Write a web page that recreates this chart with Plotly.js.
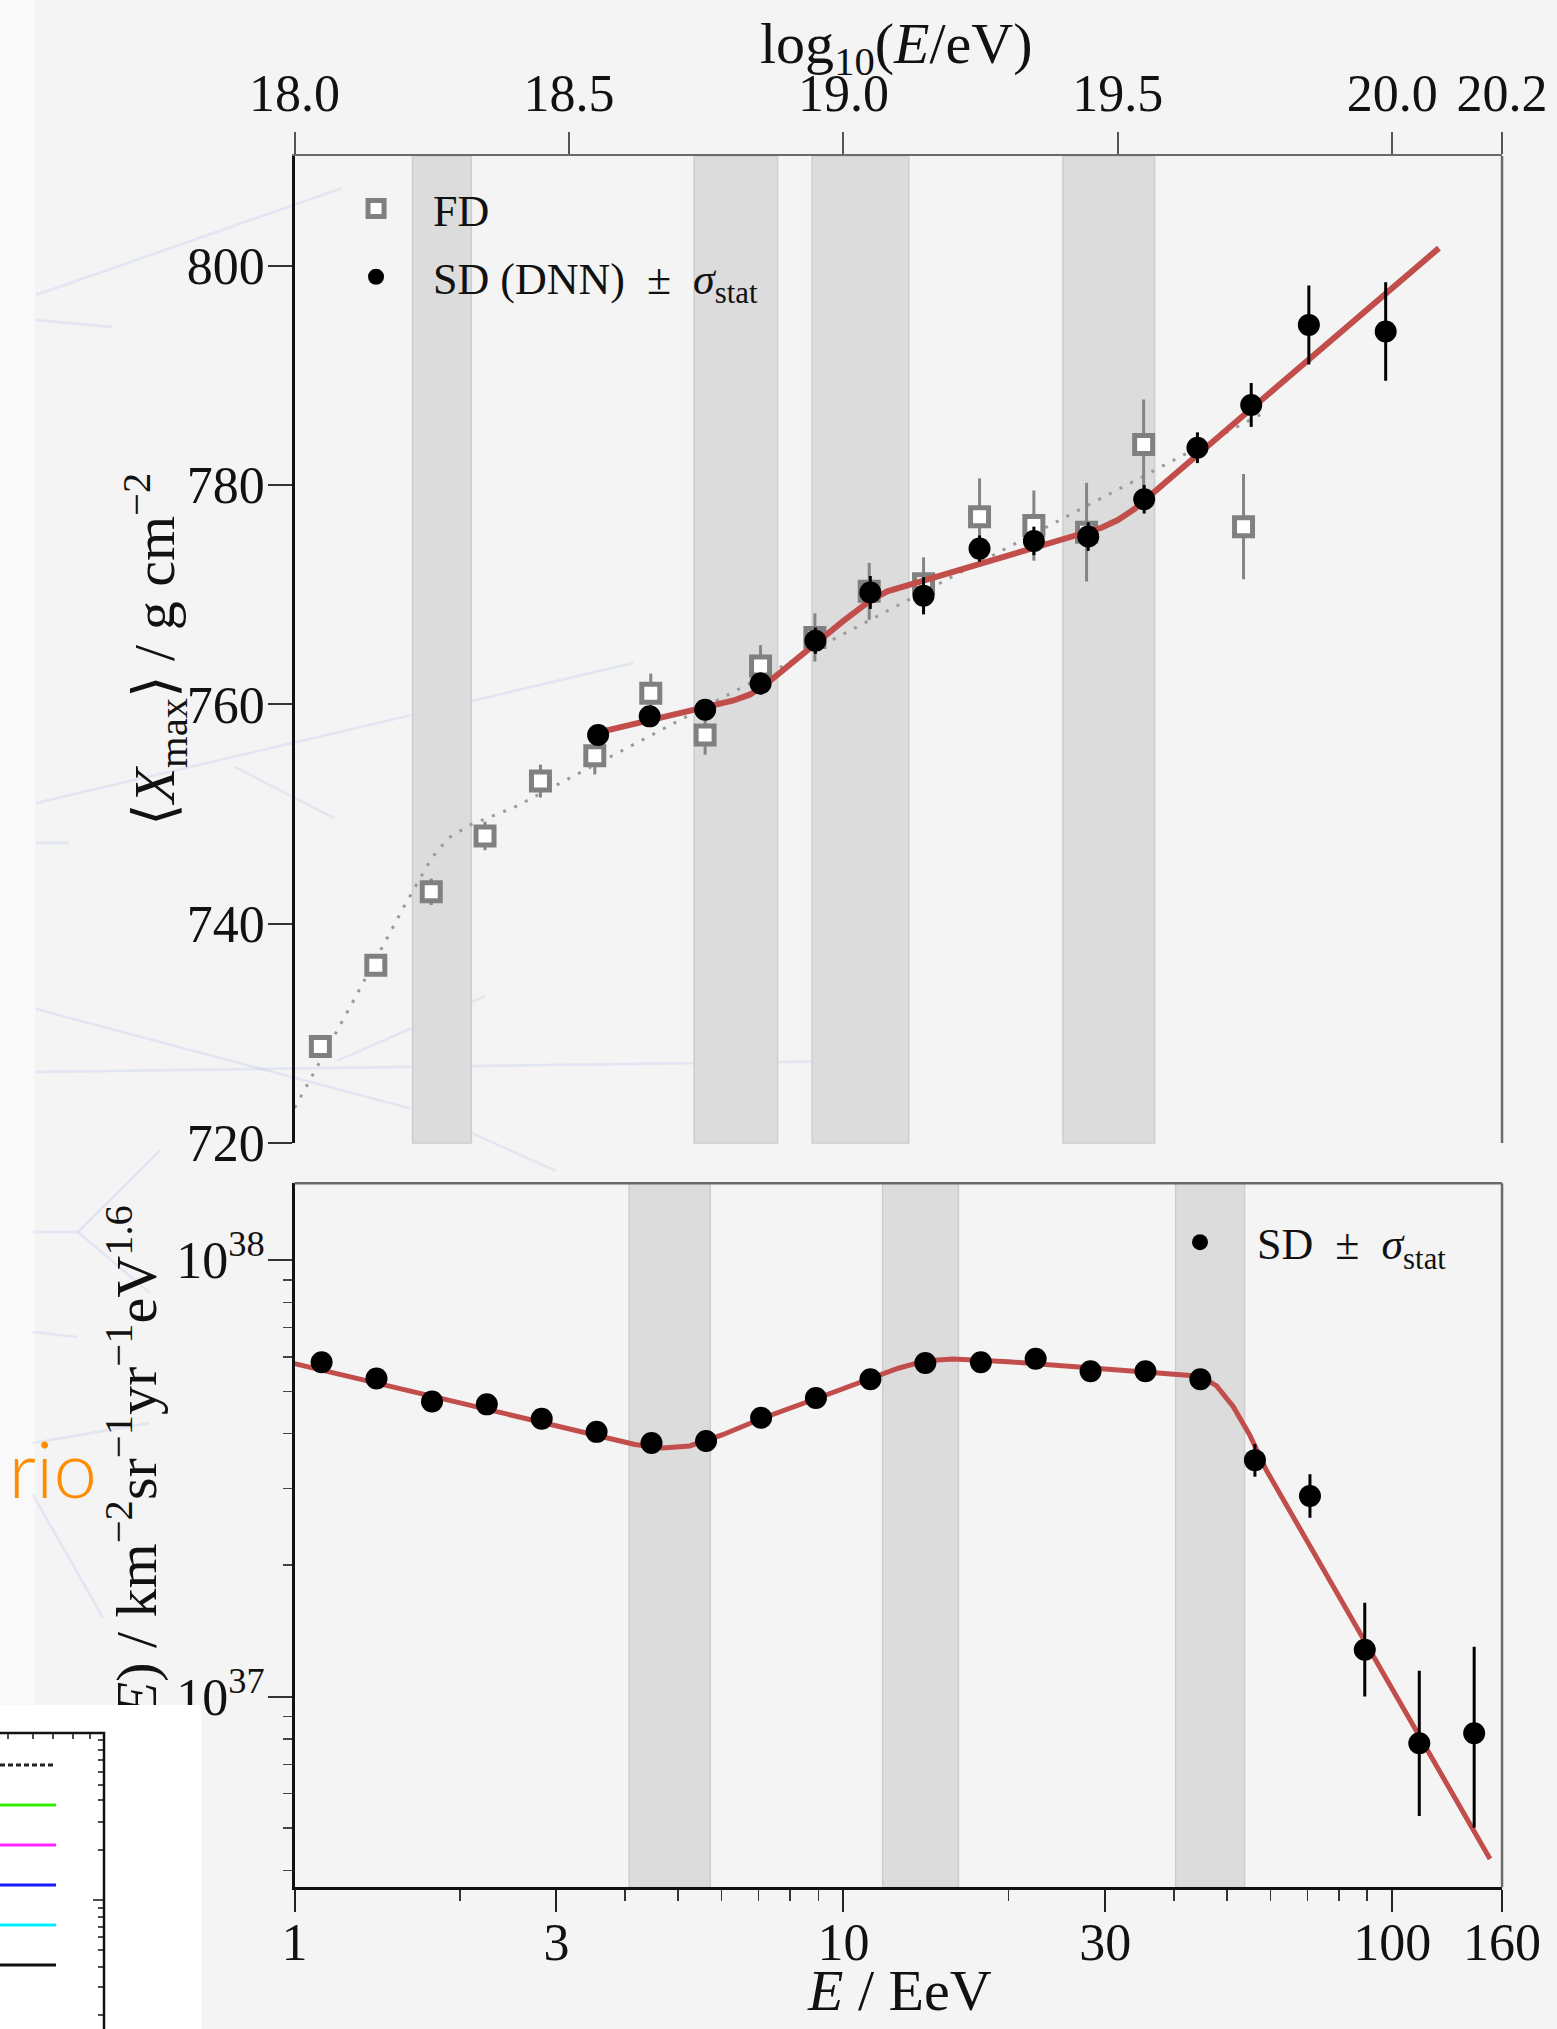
<!DOCTYPE html>
<html>
<head>
<meta charset="utf-8">
<script src="https://cdn.plot.ly/plotly-3.0.1.min.js"></script>
<style>
html,body{margin:0;padding:0;background:#f4f4f4;}
#wrap{position:relative;width:1557px;height:2029px;overflow:hidden;}
#chart{position:absolute;left:0;top:0;width:1557px;height:2029px;}
#deco{position:absolute;left:0;top:0;pointer-events:none;}
</style>
</head>
<body>
<div id="wrap">
<div id="chart"></div>
<svg id="deco" width="1557" height="2029" xmlns="http://www.w3.org/2000/svg">
  <text x="97" y="1498" text-anchor="end" font-family="Lato, 'Noto Sans', sans-serif" font-weight="300" font-size="78" fill="#ff8c00">rio</text>
  <rect x="0" y="1705" width="201" height="324" fill="#ffffff"/>
  <path d="M0 1733 H104 V2029" stroke="#111" stroke-width="2.5" fill="none"/>
  <g stroke="#111" stroke-width="1.5">
    <line x1="8" y1="1733" x2="8" y2="1739"/><line x1="33" y1="1733" x2="33" y2="1739"/>
    <line x1="53" y1="1733" x2="53" y2="1739"/><line x1="73" y1="1733" x2="73" y2="1739"/>
    <line x1="90" y1="1733" x2="90" y2="1739"/>
    <line x1="98" y1="1740" x2="104" y2="1740"/><line x1="98" y1="1750" x2="104" y2="1750"/>
    <line x1="98" y1="1760" x2="104" y2="1760"/><line x1="98" y1="1772" x2="104" y2="1772"/>
    <line x1="98" y1="1785" x2="104" y2="1785"/><line x1="98" y1="1800" x2="104" y2="1800"/>
    <line x1="98" y1="1822" x2="104" y2="1822"/><line x1="98" y1="1850" x2="104" y2="1850"/>
    <line x1="93" y1="1900" x2="104" y2="1900"/><line x1="98" y1="1908" x2="104" y2="1908"/>
    <line x1="98" y1="1917" x2="104" y2="1917"/><line x1="98" y1="1927" x2="104" y2="1927"/>
    <line x1="98" y1="1937" x2="104" y2="1937"/><line x1="98" y1="1950" x2="104" y2="1950"/>
    <line x1="98" y1="1967" x2="104" y2="1967"/><line x1="98" y1="1987" x2="104" y2="1987"/>
    <line x1="98" y1="2015" x2="104" y2="2015"/>
  </g>
  <line x1="0" y1="1765" x2="56" y2="1765" stroke="#222" stroke-width="3" stroke-dasharray="5,3"/>
  <line x1="0" y1="1805" x2="56" y2="1805" stroke="#33ee00" stroke-width="3"/>
  <line x1="0" y1="1845" x2="56" y2="1845" stroke="#ff22ff" stroke-width="3"/>
  <line x1="0" y1="1885" x2="56" y2="1885" stroke="#1a1aff" stroke-width="3"/>
  <line x1="0" y1="1925" x2="56" y2="1925" stroke="#00f0ff" stroke-width="3"/>
  <line x1="0" y1="1965" x2="56" y2="1965" stroke="#111" stroke-width="3"/>
</svg>
</div>
<script>
// ---------- data: top panel (<Xmax> vs log10(E/eV)) ----------
const fdLogE = [18.047, 18.148, 18.249, 18.347, 18.448, 18.547, 18.649, 18.748, 18.849, 18.948, 19.047, 19.146, 19.248, 19.347, 19.443, 19.547, 19.729];
const fdXmax = [728.8, 736.2, 742.9, 748.0, 753.0, 755.3, 761.0, 757.2, 763.5, 766.1, 770.3, 771.0, 777.1, 776.3, 775.7, 783.7, 776.2];
const fdErr  = [0.9, 1.0, 1.2, 1.3, 1.5, 1.7, 1.8, 1.8, 1.9, 2.2, 2.6, 2.4, 3.5, 3.2, 4.5, 4.1, 4.8];

const sdLogE = [18.553, 18.647, 18.748, 18.849, 18.949, 19.049, 19.146, 19.248, 19.347, 19.446, 19.548, 19.645, 19.743, 19.848, 19.988];
const sdXmax = [757.2, 758.9, 759.5, 761.9, 765.8, 770.2, 769.9, 774.2, 774.9, 775.3, 778.7, 783.4, 787.3, 794.6, 794.0];
const sdErr  = [0.8, 0.8, 0.9, 1.0, 1.2, 1.5, 1.7, 1.2, 1.3, 1.3, 1.3, 1.4, 2.0, 3.6, 4.5];

const sdFitLogE = [18.55, 18.70, 18.80, 18.83, 18.86, 19.00, 19.05, 19.08, 19.30, 19.47, 19.50, 19.53, 19.70, 20.085];
const sdFitXmax = [757.4, 759.2, 760.35, 760.9, 761.9, 767.6, 769.5, 770.3, 773.6, 776.1, 776.8, 777.8, 785.1, 801.6];

const fdFitLogE = [18.00, 18.10, 18.20, 18.25, 18.28, 18.32, 18.40, 19.00, 19.77];
const fdFitXmax = [723.2, 732.3, 741.6, 746.0, 747.8, 749.0, 750.6, 766.4, 786.7];

const xmaxBands = [[18.215, 18.322], [18.728, 18.880], [18.943, 19.119], [19.400, 19.567]];

// ---------- data: bottom panel (spectrum vs E / EeV) ----------
const specE       = [1.12, 1.41, 1.78, 2.24, 2.82, 3.55, 4.47, 5.62, 7.08, 8.91, 11.2, 14.1, 17.8, 22.4, 28.2, 35.5, 44.7, 56.2, 70.8, 89.1, 112, 141];
const specFlux    = [5.83, 5.35, 4.74, 4.67, 4.33, 4.04, 3.81, 3.85, 4.35, 4.83, 5.33, 5.81, 5.83, 5.94, 5.56, 5.56, 5.33, 3.48, 2.88, 1.28, 0.782, 0.824]; // x 1e37
const specErrUp   = [0.02, 0.02, 0.02, 0.02, 0.02, 0.02, 0.03, 0.03, 0.04, 0.05, 0.06, 0.08, 0.10, 0.12, 0.15, 0.18, 0.22, 0.31, 0.35, 0.36, 0.364, 0.476];
const specErrDown = [0.02, 0.02, 0.02, 0.02, 0.02, 0.02, 0.03, 0.03, 0.04, 0.05, 0.06, 0.08, 0.10, 0.12, 0.15, 0.18, 0.22, 0.29, 0.31, 0.28, 0.249, 0.323];

const specFitE    = [1.00, 1.585, 2.512, 3.548, 4.169, 4.677, 5.248, 6.026, 7.079, 8.913, 11.22, 12.59, 14.13, 15.85, 19.95, 25.12, 31.62, 39.81, 44.67, 47.86, 51.29, 54.95, 58.88, 150.7];
const specFitFlux = [5.79, 5.05, 4.40, 3.96, 3.78, 3.71, 3.75, 3.98, 4.33, 4.81, 5.33, 5.65, 5.88, 5.93, 5.85, 5.72, 5.60, 5.50, 5.42, 5.15, 4.62, 3.98, 3.31, 0.425];

const spectrumBands = [[4.07, 5.72], [11.79, 16.2], [40.3, 53.8]];

// ---------- ticks ----------
const topTickVals = [18.0, 18.5, 19.0, 19.5, 20.0, 20.2];
const topTickText = ['18.0', '18.5', '19.0', '19.5', '20.0', '20.2'];
const xmaxTickVals = [720, 740, 760, 780, 800];
const energyTickVals = [1, 3, 10, 30, 100, 158.5];
const energyTickText = ['1', '3', '10', '30', '100', '160'];
const energyMinorVals = [2, 4, 5, 6, 7, 8, 9, 20, 40, 50, 60, 70, 80, 90];
const fluxTickVals = [1e37, 1e38];
const fluxTickText = ['10<sup>37</sup>', '10<sup>38</sup>'];
const fluxMinorVals = [4e36, 5e36, 6e36, 7e36, 8e36, 9e36, 2e37, 3e37, 4e37, 5e37, 6e37, 7e37, 8e37, 9e37];

// faint background decoration of the slide (page pixels)
const decoLines = [
  [[36, 295], [342, 188]], [[36, 320], [112, 327]], [[36, 803], [633, 663]], [[235, 767], [334, 818]],
  [[36, 843], [69, 843]], [[36, 1009], [427, 1113], [556, 1171]], [[36, 1072], [854, 1061]],
  [[337, 1061], [485, 996]], [[33, 1232], [78, 1232], [160, 1150]], [[78, 1232], [150, 1293]],
  [[33, 1332], [77, 1337]], [[33, 1443], [150, 1423]], [[33, 1495], [103, 1618]]
];

const SCALE = 1e37;
const RED = '#c24e4c';
const FONT = 'Liberation Serif, DejaVu Serif, serif';
const W = 1557, H = 2029;

const traces = [
  {x: fdFitLogE, y: fdFitXmax, xaxis: 'x', yaxis: 'y', mode: 'lines', showlegend: false,
   line: {color: '#9a9a9a', width: 3, dash: '3px,9px'}, hoverinfo: 'skip'},
  {x: fdLogE, y: fdXmax, xaxis: 'x', yaxis: 'y', mode: 'markers', name: 'FD', legend: 'legend', legendgroup: 'fd',
   marker: {symbol: 'square', size: 18, color: '#ffffff', line: {color: '#808080', width: 5}},
   error_y: {type: 'data', array: fdErr, visible: true, color: '#858585', thickness: 3, width: 0}},
  {x: sdFitLogE, y: sdFitXmax, xaxis: 'x', yaxis: 'y', mode: 'lines', showlegend: false,
   line: {color: RED, width: 6}, hoverinfo: 'skip'},
  {x: sdLogE, y: sdXmax, xaxis: 'x', yaxis: 'y', mode: 'markers', legendgroup: 'sd',
   name: 'SD (DNN)\u2002\u00b1\u2002<i>\u03c3</i><sub>stat</sub>', legend: 'legend',
   marker: {symbol: 'circle', size: 22, color: '#000000'},
   error_y: {type: 'data', array: sdErr, visible: true, color: '#000000', thickness: 3, width: 0}},
  {x: specFitE, y: specFitFlux.map(v => v * SCALE), xaxis: 'x2', yaxis: 'y2', mode: 'lines', showlegend: false,
   line: {color: RED, width: 5}, hoverinfo: 'skip'},
  {x: specE, y: specFlux.map(v => v * SCALE), xaxis: 'x2', yaxis: 'y2', mode: 'markers',
   name: 'SD\u2002\u00b1\u2002<i>\u03c3</i><sub>stat</sub>', legend: 'legend2',
   marker: {symbol: 'circle', size: 22, color: '#000000'},
   error_y: {type: 'data', symmetric: false, array: specErrUp.map(v => v * SCALE),
             arrayminus: specErrDown.map(v => v * SCALE), visible: true, color: '#000000', thickness: 3, width: 0}}
];

const XDOM = [0.1892, 0.9647];
const TOPDOM = [0.4367, 0.9231];
const BOTDOM = [0.0699, 0.4168];
const tickFont = {family: FONT, size: 52, color: '#111'};

const shapes = [];
shapes.push({type: 'rect', xref: 'paper', yref: 'paper', x0: 0, x1: 35 / W, y0: 0, y1: 1,
  fillcolor: '#f9f9f9', line: {width: 0}, layer: 'below'});
decoLines.forEach(pts => {
  const path = pts.map((p, i) => (i ? 'L' : 'M') + (p[0] / W).toFixed(4) + ',' + (1 - p[1] / H).toFixed(4)).join(' ');
  shapes.push({type: 'path', xref: 'paper', yref: 'paper', path: path, line: {color: 'rgba(170,188,235,0.25)', width: 2.5}, layer: 'below'});
});
xmaxBands.forEach(b => shapes.push({type: 'rect', xref: 'x', yref: 'y domain', x0: b[0], x1: b[1], y0: 0, y1: 1,
  fillcolor: '#dcdcdc', line: {color: '#cdcdcd', width: 1.5}, layer: 'below'}));
spectrumBands.forEach(b => shapes.push({type: 'rect', xref: 'x2', yref: 'y2 domain', x0: b[0], x1: b[1], y0: 0, y1: 1,
  fillcolor: '#dcdcdc', line: {color: '#cdcdcd', width: 1.5}, layer: 'below'}));
shapes.push({type: 'line', xref: 'x domain', yref: 'y domain', x0: 1, x1: 1, y0: 0, y1: 1, line: {color: '#6a6a6a', width: 2.5}});
shapes.push({type: 'line', xref: 'x2 domain', yref: 'y2 domain', x0: 1, x1: 1, y0: 0, y1: 1, line: {color: '#6a6a6a', width: 2.5}});
shapes.push({type: 'line', xref: 'x2 domain', yref: 'y2 domain', x0: 0, x1: 1, y0: 1, y1: 1, line: {color: '#6a6a6a', width: 2.5}});

const layout = {
  width: W, height: H,
  margin: {l: 0, r: 0, t: 0, b: 0, pad: 0},
  paper_bgcolor: 'rgba(0,0,0,0)', plot_bgcolor: 'rgba(0,0,0,0)',
  font: {family: FONT, size: 52, color: '#111'},
  showlegend: true,
  xaxis: {domain: XDOM, anchor: 'y', side: 'top', range: [18.0, 20.2], type: 'linear',
    tickmode: 'array', tickvals: topTickVals, ticktext: topTickText, tickfont: tickFont,
    ticks: 'outside', ticklen: 22, tickwidth: 2, tickcolor: '#555',
    showline: true, linecolor: '#6a6a6a', linewidth: 2.5, showgrid: false, zeroline: false},
  xaxis3: {domain: XDOM, anchor: 'y', overlaying: 'x', side: 'bottom', type: 'log', range: [0, 2.2],
    tickmode: 'array', tickvals: energyTickVals, showticklabels: false,
    ticks: 'outside', ticklen: 21, tickwidth: 2, tickcolor: '#222',
    minor: {tickmode: 'array', tickvals: energyMinorVals, ticks: 'outside', ticklen: 10, tickwidth: 1.5, tickcolor: '#333', showgrid: false},
    showline: true, linecolor: '#111', linewidth: 2.5, showgrid: false, zeroline: false},
  yaxis: {domain: TOPDOM, anchor: 'x', range: [720, 810],
    tickmode: 'array', tickvals: xmaxTickVals, tickfont: tickFont, ticklabelstandoff: -7,
    ticks: 'outside', ticklen: 24, tickwidth: 2, tickcolor: '#333',
    showline: true, linecolor: '#111', linewidth: 2.5, showgrid: false, zeroline: false},
  xaxis2: {domain: XDOM, anchor: 'y2', type: 'log', range: [0, 2.2],
    tickmode: 'array', tickvals: energyTickVals, ticktext: energyTickText, tickfont: tickFont, ticklabelstandoff: -14,
    ticks: 'outside', ticklen: 22, tickwidth: 2, tickcolor: '#222',
    minor: {tickmode: 'array', tickvals: energyMinorVals, ticks: 'outside', ticklen: 11, tickwidth: 1.5, tickcolor: '#333', showgrid: false},
    showline: true, linecolor: '#111', linewidth: 2.5, showgrid: false, zeroline: false},
  yaxis2: {domain: BOTDOM, anchor: 'x2', type: 'log', range: [36.5636, 38.1756],
    tickmode: 'array', tickvals: fluxTickVals, ticktext: fluxTickText, tickfont: tickFont, ticklabelstandoff: -7,
    ticks: 'outside', ticklen: 24, tickwidth: 2, tickcolor: '#333',
    minor: {tickmode: 'array', tickvals: fluxMinorVals, ticks: 'outside', ticklen: 9, tickwidth: 1.5, tickcolor: '#444', showgrid: false},
    showline: true, linecolor: '#111', linewidth: 2.5, showgrid: false, zeroline: false},
  legend: {x: 0.2049, y: 0.9145, xanchor: 'left', yanchor: 'top', bgcolor: 'rgba(0,0,0,0)', tracegroupgap: 8,
    font: {family: FONT, size: 44, color: '#111'}, itemwidth: 104, borderwidth: 0},
  legend2: {x: 0.7341, y: 0.4051, xanchor: 'left', yanchor: 'top', bgcolor: 'rgba(0,0,0,0)',
    font: {family: FONT, size: 44, color: '#111'}, itemwidth: 104, borderwidth: 0},
  shapes: shapes,
  annotations: [
    {text: 'log<sub>10</sub>(<i>E</i>/eV)', xref: 'paper', yref: 'paper', x: 0.5755, y: 1 - 47 / H,
     xanchor: 'center', yanchor: 'middle', showarrow: false, font: {family: FONT, size: 58, color: '#111'}},
    {text: '<i>E</i> / EeV', xref: 'paper', yref: 'paper', x: 0.5774, y: 1 - 1990 / H,
     xanchor: 'center', yanchor: 'middle', showarrow: false, font: {family: FONT, size: 58, color: '#111'}},
    {text: '\u27e8<i>X</i><sub>max</sub>\u27e9 / g cm<sup>\u22122</sup>', xref: 'paper', yref: 'paper',
     x: 155 / W, y: 1 - 650 / H, textangle: -90,
     xanchor: 'center', yanchor: 'middle', showarrow: false, font: {family: FONT, size: 58, color: '#111'}},
    {text: '<i>E</i><sup>2.6</sup> <i>J</i>(<i>E</i>) / km<sup>\u22122</sup>sr<sup>\u22121</sup>yr<sup>\u22121</sup>eV<sup>1.6</sup>',
     xref: 'paper', yref: 'paper', x: 132 / W, y: 1 - 1535 / H, textangle: -90,
     xanchor: 'center', yanchor: 'middle', showarrow: false, font: {family: FONT, size: 58, color: '#111'}}
  ]
};

Plotly.newPlot('chart', traces, layout, {displayModeBar: false, staticPlot: true});
</script>
</body>
</html>
